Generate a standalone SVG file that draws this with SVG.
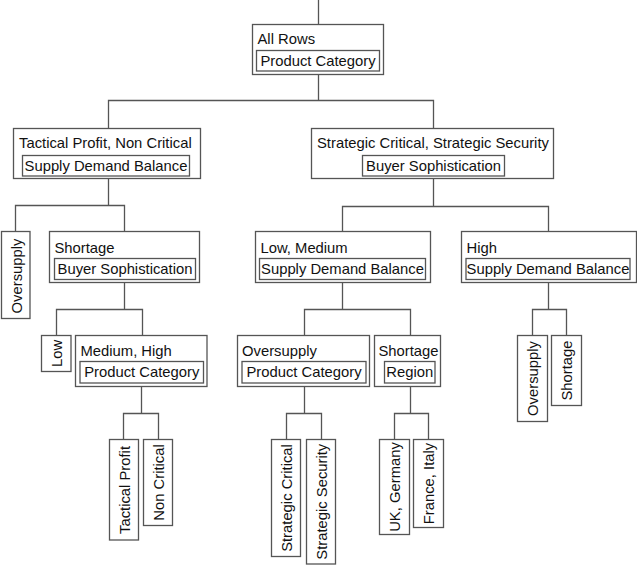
<svg xmlns="http://www.w3.org/2000/svg" width="637" height="565" viewBox="0 0 637 565">
<style>
rect{fill:#fff;stroke:#555;stroke-width:1.3}
.c path{fill:none;stroke:#555;stroke-width:1.3}
text{font-family:"Liberation Sans",Arial,sans-serif;font-size:14.8px;fill:#111}
.m{text-anchor:middle}
</style>
<rect x="0" y="0" width="637" height="565" style="stroke:none"/>
<g class="c" id="connectors">
<path d="M318.5 0V24.5"/>
<path d="M318.5 74.5V100.5M108.5 128.5V100.5H433.5V128.5"/>
<path d="M108.5 178.5V205.5M15.5 231.5V205.5H124.5V231.5"/>
<path d="M433.5 178.5V206.5M342.5 231.5V206.5H548.5V231.5"/>
<path d="M124.5 282.5V309.5M56.5 335.5V309.5H142.5V335.5"/>
<path d="M141.5 386.5V413.5M123.5 439.5V413.5H158.5V439.5"/>
<path d="M342.5 282.5V309.5M304.5 335.5V309.5H410.5V335.5"/>
<path d="M304.5 386.5V413.5M286.5 439.5V413.5H321.5V439.5"/>
<path d="M410.5 386.5V413.5M394.5 439.5V413.5H428.5V439.5"/>
<path d="M548.5 282.5V309.5M532.5 335.5V309.5H566.5V335.5"/>
</g>
<g id="n-root">
<rect x="252.5" y="24.5" width="131" height="50"/>
<rect x="256.5" y="50.5" width="123" height="20.5"/>
<text x="257.5" y="43.5">All Rows</text>
<text class="m" x="318" y="65.5">Product Category</text>
</g>
<g id="n-tp">
<rect x="13.5" y="128.5" width="187" height="50"/>
<rect x="22.5" y="155.5" width="167" height="20.5"/>
<text x="19" y="148">Tactical Profit, Non Critical</text>
<text class="m" x="106" y="170.5">Supply Demand Balance</text>
</g>
<g id="n-sc">
<rect x="311.5" y="128.5" width="242" height="50"/>
<rect x="362.5" y="155.5" width="142" height="20.5"/>
<text x="317" y="148">Strategic Critical, Strategic Security</text>
<text class="m" x="433.5" y="170.5">Buyer Sophistication</text>
</g>
<g id="n-oversupply-l">
<rect x="1.5" y="231.5" width="28.5" height="87"/>
<text class="m" transform="translate(21.5 276) rotate(-90)">Oversupply</text>
</g>
<g id="n-shortage-l">
<rect x="49.5" y="231.5" width="150" height="51"/>
<rect x="54.5" y="258.5" width="141" height="21"/>
<text x="54.5" y="252.5">Shortage</text>
<text class="m" x="125" y="274">Buyer Sophistication</text>
</g>
<g id="n-lowmed">
<rect x="255.5" y="231.5" width="175" height="51"/>
<rect x="259.5" y="258.5" width="166" height="21"/>
<text x="260.5" y="252.5">Low, Medium</text>
<text class="m" x="342.5" y="274">Supply Demand Balance</text>
</g>
<g id="n-high">
<rect x="461.5" y="231.5" width="175" height="51"/>
<rect x="466" y="258.5" width="164" height="21"/>
<text x="466.5" y="252.5">High</text>
<text class="m" x="548" y="274">Supply Demand Balance</text>
</g>
<g id="n-low">
<rect x="41.5" y="335.5" width="29.5" height="36"/>
<text class="m" transform="translate(62 353.5) rotate(-90)">Low</text>
</g>
<g id="n-medhigh">
<rect x="75.5" y="335.5" width="131.5" height="51"/>
<rect x="80" y="361.5" width="123.5" height="21.5"/>
<text x="80.5" y="356">Medium, High</text>
<text class="m" x="141.8" y="377">Product Category</text>
</g>
<g id="n-oversupply-m">
<rect x="237.5" y="335.5" width="132" height="51"/>
<rect x="242" y="361.5" width="124" height="21.5"/>
<text x="242" y="356">Oversupply</text>
<text class="m" x="304" y="377">Product Category</text>
</g>
<g id="n-shortage-m">
<rect x="374.5" y="335.5" width="66" height="51"/>
<rect x="384.5" y="361.5" width="50.5" height="21.5"/>
<text x="378.5" y="356">Shortage</text>
<text class="m" x="409.7" y="377">Region</text>
</g>
<g id="n-oversupply-r">
<rect x="517.5" y="335.5" width="30" height="86"/>
<text class="m" transform="translate(538 378.5) rotate(-90)">Oversupply</text>
</g>
<g id="n-shortage-r">
<rect x="551.5" y="335.5" width="30" height="70"/>
<text class="m" transform="translate(572 370.5) rotate(-90)">Shortage</text>
</g>
<g id="n-tactical">
<rect x="109.5" y="439.5" width="29" height="100.5"/>
<text class="m" transform="translate(130 490) rotate(-90)">Tactical Profit</text>
</g>
<g id="n-noncritical">
<rect x="143.5" y="439.5" width="29" height="86"/>
<text class="m" transform="translate(164 482.5) rotate(-90)">Non Critical</text>
</g>
<g id="n-stratcrit">
<rect x="271.5" y="439.5" width="29" height="117"/>
<text class="m" transform="translate(292 498) rotate(-90)">Strategic Critical</text>
</g>
<g id="n-stratsec">
<rect x="306.5" y="439.5" width="29" height="124.5"/>
<text class="m" transform="translate(327 501.7) rotate(-90)">Strategic Security</text>
</g>
<g id="n-ukgermany">
<rect x="379.5" y="439.5" width="30" height="95"/>
<text class="m" transform="translate(400 487) rotate(-90)">UK, Germany</text>
</g>
<g id="n-franceitaly">
<rect x="413.5" y="439.5" width="30" height="88"/>
<text class="m" transform="translate(434 483.5) rotate(-90)">France, Italy</text>
</g>
</svg>
